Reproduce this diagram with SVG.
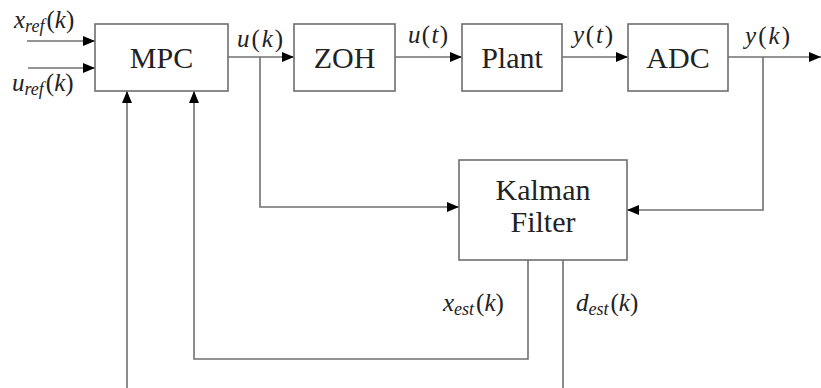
<svg xmlns="http://www.w3.org/2000/svg" width="821" height="388" viewBox="0 0 821 388">
<defs>
<marker id="ah" markerUnits="userSpaceOnUse" markerWidth="14" markerHeight="12" refX="13" refY="6" orient="auto">
<path d="M1,1 L13,6 L1,11 Z" fill="#000"/>
</marker>
<style>
.box{fill:#fff;stroke:#6e6e6e;stroke-width:1.6}
.bl{font-family:'Liberation Serif','DejaVu Serif',serif;font-size:30px;fill:#222;text-anchor:middle}
.ln{fill:none;stroke:#707070;stroke-width:1.6}
.ar{marker-end:url(#ah)}
.m{font-family:'Liberation Serif','DejaVu Serif',serif;font-size:25px;fill:#222}
.i{font-style:italic}
.s{font-style:italic;font-size:18px}
</style>
</defs>
<rect width="821" height="388" fill="#fff"/>
<g id="connectors">
<line class="ln ar" x1="27" y1="41" x2="95" y2="41"/>
<line class="ln ar" x1="28" y1="68" x2="95" y2="68"/>
<line class="ln ar" x1="228" y1="57" x2="294" y2="57"/>
<line class="ln ar" x1="395" y1="57" x2="462" y2="57"/>
<line class="ln ar" x1="562" y1="57" x2="628" y2="57"/>
<line class="ln ar" x1="728" y1="57" x2="821" y2="57"/>
<polyline class="ln ar" points="260,57 260,207 459,207"/>
<polyline class="ln ar" points="763,57 763,210 627,210"/>
<polyline class="ln ar" points="528,260 528,359 194,359 194,91"/>
<line class="ln" x1="563" y1="260" x2="563" y2="388"/>
<line class="ln ar" x1="127" y1="388" x2="127" y2="91"/>
</g>
<g id="mpc"><rect class="box" x="95" y="24" width="133" height="67"/><text class="bl" x="161.5" y="68">MPC</text></g>
<g id="zoh"><rect class="box" x="294" y="24" width="101" height="67"/><text class="bl" x="344.5" y="68">ZOH</text></g>
<g id="plant"><rect class="box" x="462" y="24" width="100" height="67"/><text class="bl" x="512" y="68">Plant</text></g>
<g id="adc"><rect class="box" x="628" y="24" width="100" height="67"/><text class="bl" x="678" y="68">ADC</text></g>
<g id="kalman"><rect class="box" x="459" y="160" width="168" height="100"/><text class="bl" x="543" y="200">Kalman</text><text class="bl" x="543" y="232">Filter</text></g>
<g id="labels">
<text class="m" x="14" y="28"><tspan class="i">x</tspan><tspan class="s" dy="4">ref</tspan><tspan dy="-4" dx="2">(</tspan><tspan class="i">k</tspan>)</text>
<text class="m" x="12" y="91"><tspan class="i">u</tspan><tspan class="s" dy="4">ref</tspan><tspan dy="-4" dx="2">(</tspan><tspan class="i">k</tspan>)</text>
<text class="m" x="237" y="47" textLength="46"><tspan class="i">u</tspan>(<tspan class="i">k</tspan>)</text>
<text class="m" x="408" y="43" textLength="40"><tspan class="i">u</tspan>(<tspan class="i">t</tspan>)</text>
<text class="m" x="573" y="43" textLength="40"><tspan class="i">y</tspan>(<tspan class="i">t</tspan>)</text>
<text class="m" x="745" y="44" textLength="45"><tspan class="i">y</tspan>(<tspan class="i">k</tspan>)</text>
<text class="m" x="443" y="311"><tspan class="i">x</tspan><tspan class="s" dy="4">est</tspan><tspan dy="-4" dx="2">(</tspan><tspan class="i">k</tspan>)</text>
<text class="m" x="576" y="311"><tspan class="i">d</tspan><tspan class="s" dy="4">est</tspan><tspan dy="-4" dx="2">(</tspan><tspan class="i">k</tspan>)</text>
</g>
</svg>
